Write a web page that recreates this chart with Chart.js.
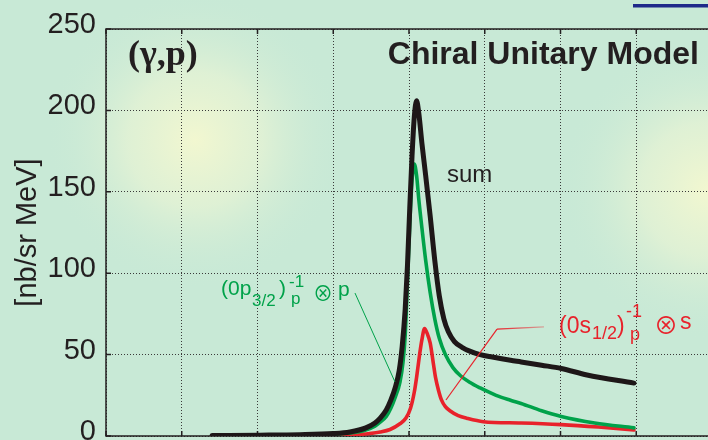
<!DOCTYPE html>
<html><head><meta charset="utf-8">
<script src="https://cdn.jsdelivr.net/npm/chart.js@4.4.0/dist/chart.umd.min.js"></script>
<style>
html,body{margin:0;padding:0;overflow:hidden;background:#c8e9d6;}
#wrap{width:708px;height:440px;overflow:hidden;position:relative;}
canvas{display:block;}
</style></head><body>
<div id="wrap"><canvas id="c" width="712" height="440"></canvas></div>
<script>
// ---- data ----
const yTickValues = [0, 50, 100, 150, 200, 250];
const sumE = [1.40, 2.03, 2.56, 3.00, 3.22, 3.43, 3.55, 3.62, 3.70, 3.76, 3.82, 3.87, 3.91, 3.95, 3.98, 4.01, 4.04, 4.07, 4.10, 4.13, 4.17, 4.22, 4.28, 4.34, 4.40, 4.46, 4.52, 4.60, 4.70, 4.81, 4.94, 5.10, 5.34, 5.48, 5.75, 6.01, 6.35, 6.97];
const sumV = [0.3, 0.5, 0.8, 1.5, 2.5, 5, 8, 11, 16, 22, 30, 40, 55, 78, 105, 140, 172, 196, 206, 198, 180, 160, 135, 108, 86, 72, 64, 58, 54.5, 52, 50, 48.5, 46.5, 45.5, 43.5, 41.5, 37.5, 32.5];
const p32E = [1.40, 2.03, 2.56, 3.00, 3.22, 3.42, 3.55, 3.62, 3.70, 3.76, 3.82, 3.88, 3.92, 3.95, 3.98, 4.01, 4.04, 4.07, 4.10, 4.13, 4.17, 4.22, 4.28, 4.34, 4.40, 4.48, 4.58, 4.68, 4.80, 4.94, 5.15, 5.34, 5.48, 5.75, 6.01, 6.45, 6.97];
const p32V = [0.2, 0.4, 0.6, 1.0, 1.8, 3.5, 6, 8.5, 12, 17, 24, 33, 45, 62, 95, 130, 157, 167, 160, 145, 128, 108, 88, 72, 60, 50, 42, 37, 33, 29.5, 25, 22, 20, 15.5, 12, 8, 5];
const s12E = [1.40, 2.56, 3.00, 3.36, 3.62, 3.75, 3.88, 3.96, 4.02, 4.07, 4.10, 4.14, 4.17, 4.205, 4.24, 4.28, 4.32, 4.35, 4.39, 4.43, 4.48, 4.54, 4.65, 4.77, 4.98, 5.48, 6.01, 6.50, 6.97];
const s12V = [0.0, 0.1, 0.3, 1.0, 2.5, 4, 7.5, 11, 17, 27, 36, 50, 59, 66, 63, 57, 45, 36, 28, 22, 18, 15.5, 12.5, 10.8, 8.8, 8, 7, 5.5, 3.7];
const seriesNames = ['sum', '(0p3/2)p-1 ⊗ p', '(0s1/2)p-1 ⊗ s'];

// ---- annotation anchors in data coordinates ----
const ann = {
  gp: [0.29, 228], chiral: [3.72, 228.5], sum: [4.50, 156],
  p32: [1.518, 86.6], s12: [5.98, 63.3],
  p32Leader: [[3.287, 87.8], [3.815, 33.2]],
  s12Leader: [[4.488, 22.1], [5.162, 65.7], [5.782, 67]]
};

const pts = (E, V) => E.map((e, i) => ({x: e, y: V[i]}));
const SANS = '"Liberation Sans", Arial, sans-serif';
const OTIMES = '"Noto Sans CJK JP", "DejaVu Sans", sans-serif';
const INK = '#231f20';
const GREEN = '#00a24a';
const RED = '#e8222b';

function glow(ctx, x, y, r) {
  const g = ctx.createRadialGradient(x, y, 0, x, y, r);
  g.addColorStop(0, 'rgba(242,247,208,1)');
  g.addColorStop(0.45, 'rgba(230,243,212,0.75)');
  g.addColorStop(1, 'rgba(200,233,214,0)');
  ctx.fillStyle = g;
  ctx.fillRect(x - r, y - r, 2 * r, 2 * r);
}

function pieces(ctx, x0, y0, color, list) {
  ctx.fillStyle = color;
  ctx.textBaseline = 'alphabetic';
  ctx.textAlign = 'left';
  for (const p of list) {
    ctx.font = (p.w || 'normal') + ' ' + p.s + 'px ' + (p.f || SANS);
    ctx.fillText(p.t, x0 + p.dx, y0 + p.dy);
  }
}

const deco = {
  id: 'deco',
  beforeDraw(chart) {
    const {ctx, width, height} = chart;
    ctx.save();
    ctx.fillStyle = '#c8e9d6';
    ctx.fillRect(0, 0, width, height);
    glow(ctx, 195, 140, 150);
    glow(ctx, 708, 190, 150);
    ctx.fillStyle = '#1f2a8a';
    ctx.fillRect(633, 4, 80, 3.5);
    ctx.restore();
  },
  beforeDatasetsDraw(chart) {
    const {ctx, chartArea: a, scales: {x, y}} = chart;
    ctx.save();
    ctx.setLineDash([]);
    ctx.strokeStyle = INK;
    ctx.lineWidth = 1.5;
    ctx.beginPath();
    ctx.moveTo(a.right + 2, a.top); ctx.lineTo(a.left, a.top);
    ctx.lineTo(a.left, a.bottom); ctx.lineTo(a.right + 2, a.bottom);
    ctx.stroke();
    ctx.beginPath();
    for (const t of x.ticks) {
      const px = x.getPixelForValue(t.value);
      ctx.moveTo(px, a.top); ctx.lineTo(px, a.top + 5);
      ctx.moveTo(px, a.bottom); ctx.lineTo(px, a.bottom - 5);
    }
    for (const t of y.ticks) {
      const py = y.getPixelForValue(t.value);
      ctx.moveTo(a.left, py); ctx.lineTo(a.left + 5, py);
    }
    ctx.stroke();
    ctx.restore();
  },
  afterDatasetsDraw(chart) {
    const {ctx, scales: {x, y}} = chart;
    const P = (d) => [x.getPixelForValue(d[0]), y.getPixelForValue(d[1])];
    ctx.save();
    // leader lines
    let a = P(ann.p32Leader[0]), b = P(ann.p32Leader[1]);
    ctx.strokeStyle = GREEN; ctx.lineWidth = 1;
    ctx.beginPath(); ctx.moveTo(a[0], a[1]); ctx.lineTo(b[0], b[1]); ctx.stroke();
    const r0 = P(ann.s12Leader[0]), r1 = P(ann.s12Leader[1]), r2 = P(ann.s12Leader[2]);
    ctx.strokeStyle = RED; ctx.lineWidth = 1.2;
    ctx.beginPath(); ctx.moveTo(r0[0], r0[1]); ctx.lineTo(r1[0], r1[1]); ctx.stroke();
    const gr = ctx.createLinearGradient(r1[0], 0, r2[0], 0);
    gr.addColorStop(0, RED); gr.addColorStop(1, 'rgba(232,34,43,0.35)');
    ctx.strokeStyle = gr;
    ctx.beginPath(); ctx.moveTo(r1[0], r1[1]); ctx.lineTo(r2[0], r2[1]); ctx.stroke();

    // texts
    let q = P(ann.gp);
    pieces(ctx, q[0], q[1], INK, [{t: '(γ,p)', dx: 0, dy: 0, s: 36, w: 'bold', f: '"Liberation Serif", "Times New Roman", serif'}]);
    q = P(ann.chiral);
    pieces(ctx, q[0], q[1], INK, [{t: 'Chiral Unitary Model', dx: 0, dy: 0, s: 32, w: 'bold'}]);
    q = P(ann.sum);
    pieces(ctx, q[0], q[1], INK, [{t: 'sum', dx: 0, dy: 0, s: 24}]);
    q = P(ann.p32);
    pieces(ctx, q[0], q[1], GREEN, [
      {t: '(0p', dx: 0, dy: 0, s: 21},
      {t: '3/2', dx: 31, dy: 11, s: 17},
      {t: ')', dx: 58, dy: 0, s: 21},
      {t: '-1', dx: 68, dy: -8, s: 17},
      {t: 'p', dx: 70, dy: 9, s: 17},
      {t: '⊗', dx: 92, dy: 6, s: 20, f: OTIMES},
      {t: 'p', dx: 117, dy: 1, s: 21}
    ]);
    q = P(ann.s12);
    pieces(ctx, q[0], q[1], RED, [
      {t: '(0s', dx: 0, dy: 0, s: 23},
      {t: '1/2', dx: 33, dy: 6, s: 18},
      {t: ')', dx: 58, dy: 0, s: 23},
      {t: '-1', dx: 67, dy: -16, s: 18},
      {t: 'p', dx: 71, dy: 7, s: 18},
      {t: '⊗', dx: 95, dy: 1, s: 24, f: OTIMES},
      {t: 's', dx: 121, dy: -4, s: 23}
    ]);
    ctx.restore();
  }
};

const gridOpts = {color: '#3a3a3a', lineWidth: 1, drawTicks: false};
new Chart(document.getElementById('c'), {
  type: 'line',
  data: {
    datasets: [
      {label: seriesNames[0], data: pts(sumE, sumV), borderColor: '#1e1718', borderWidth: 5},
      {label: seriesNames[1], data: pts(p32E, p32V), borderColor: GREEN, borderWidth: 3.6},
      {label: seriesNames[2], data: pts(s12E, s12V), borderColor: RED, borderWidth: 3.6}
    ].map(d => Object.assign(d, {pointRadius: 0, fill: false, cubicInterpolationMode: 'monotone', borderCapStyle: 'round', borderJoinStyle: 'round'}))
  },
  options: {
    responsive: false,
    animation: false,
    devicePixelRatio: 1,
    layout: {padding: {top: 29, bottom: 4, left: 0, right: 0}},
    plugins: {legend: {display: false}, tooltip: {enabled: false}},
    scales: {
      x: {
        type: 'linear', min: 0, max: 8,
        ticks: {display: false, stepSize: 1},
        grid: gridOpts,
        border: {display: false, dash: [1, 2]}
      },
      y: {
        type: 'linear', min: 0, max: 250,
        afterBuildTicks(s) { s.ticks = yTickValues.map(v => ({value: v})); },
        ticks: {padding: 10, labelOffset: -4, color: INK, font: {family: SANS, size: 29}},
        grid: gridOpts,
        border: {display: false, dash: [1, 2]},
        title: {display: true, text: '[nb/sr MeV]', color: INK, font: {family: SANS, size: 29}, padding: {top: 11, bottom: 0}},
        afterFit(s) { s.width = 106; s.paddingTop = 0; s.paddingBottom = 0; }
      }
    }
  },
  plugins: [deco]
});
</script>
</body></html>
